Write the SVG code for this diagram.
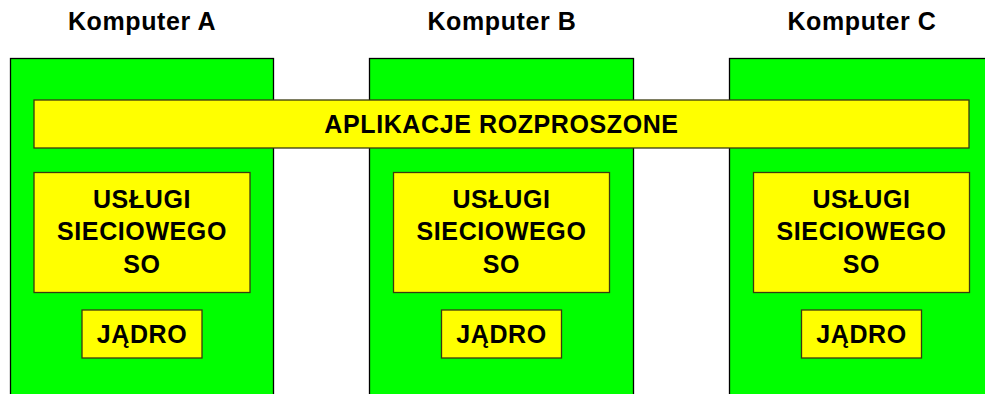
<svg xmlns="http://www.w3.org/2000/svg" width="985" height="394" viewBox="0 0 985 394">
<style>
.comp{fill:#00ff00;stroke:#000;stroke-width:1.3}
.yel{fill:#ffff00;stroke:#3a3a10;stroke-width:1.3}
text{font-family:"Liberation Sans",Arial,sans-serif;font-weight:bold;font-size:25px;letter-spacing:0.6px;fill:#000;text-anchor:middle}
</style>
<rect width="985" height="394" fill="#fff"/>
<g id="komputer-a">
<text x="142" y="29.5">Komputer A</text>
<rect class="comp" x="10.5" y="58.5" width="263" height="345"/>
</g>
<g id="komputer-b">
<text x="502" y="29.5">Komputer B</text>
<rect class="comp" x="369.5" y="58.5" width="264" height="345"/>
</g>
<g id="komputer-c">
<text x="862" y="29.5">Komputer C</text>
<rect class="comp" x="729.5" y="58.5" width="270" height="345"/>
</g>
<g id="connectors"></g>
<g id="aplikacje">
<rect class="yel" x="34" y="100" width="935" height="48"/>
<text x="501.5" y="133.3">APLIKACJE ROZPROSZONE</text>
</g>
<g id="uslugi-a">
<rect class="yel" x="34" y="172.5" width="216" height="120"/>
<text x="142" y="207.5">USŁUGI</text>
<text x="142" y="240">SIECIOWEGO</text>
<text x="142" y="272.5">SO</text>
</g>
<g id="uslugi-b">
<rect class="yel" x="393.5" y="172.5" width="216" height="120"/>
<text x="501.5" y="207.5">USŁUGI</text>
<text x="501.5" y="240">SIECIOWEGO</text>
<text x="501.5" y="272.5">SO</text>
</g>
<g id="uslugi-c">
<rect class="yel" x="753.5" y="172.5" width="216" height="120"/>
<text x="861.5" y="207.5">USŁUGI</text>
<text x="861.5" y="240">SIECIOWEGO</text>
<text x="861.5" y="272.5">SO</text>
</g>
<g id="jadro-a">
<rect class="yel" x="82" y="310" width="120" height="48"/>
<text x="142" y="342.5">JĄDRO</text>
</g>
<g id="jadro-b">
<rect class="yel" x="441.5" y="310" width="120" height="48"/>
<text x="501.5" y="342.5">JĄDRO</text>
</g>
<g id="jadro-c">
<rect class="yel" x="801.5" y="310" width="120" height="48"/>
<text x="861.5" y="342.5">JĄDRO</text>
</g>
</svg>
